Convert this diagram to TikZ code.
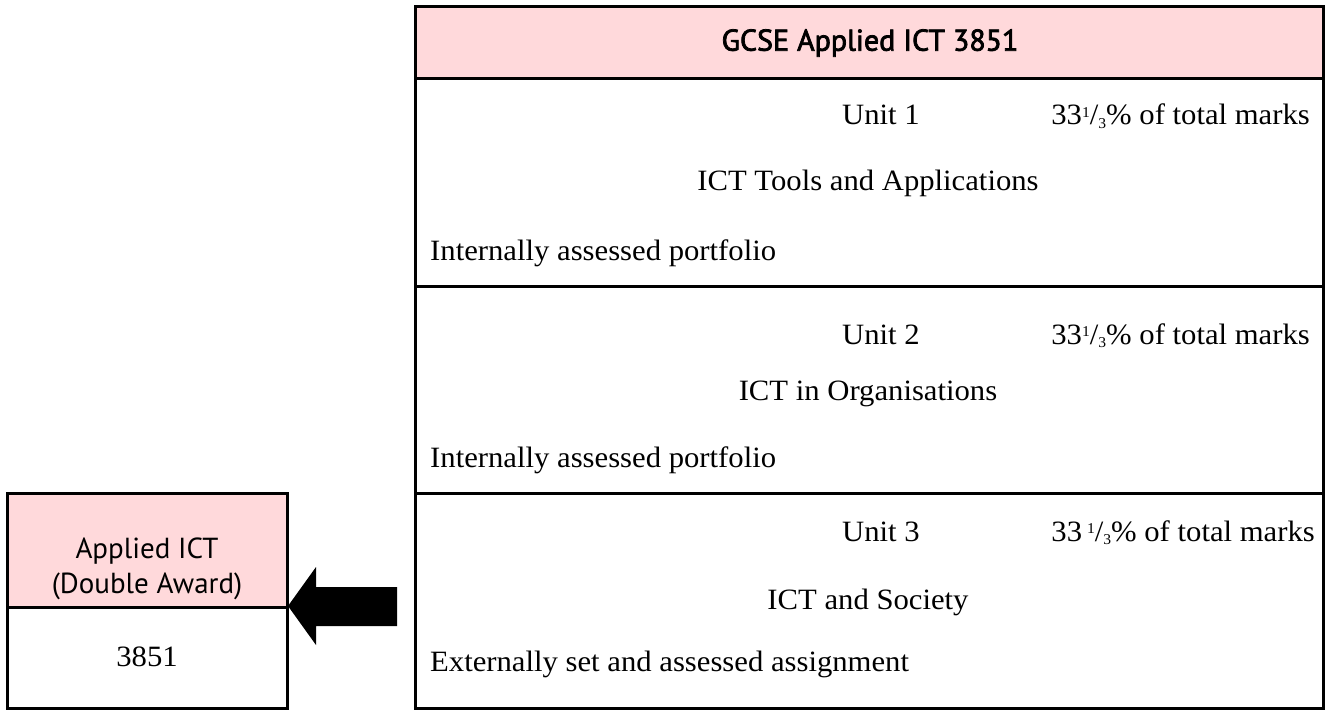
\documentclass[tikz,border=0pt]{standalone}
\usepackage{fontspec}
\setmainfont{Liberation Serif}[FakeStretch=1.04]
\newfontfamily\hdrfont{PT Sans}[FakeBold=2.5]
\newfontfamily\boxfont{PT Sans}
\definecolor{headpink}{RGB}{255,217,219}
\newcommand{\thirdfrac}{\raisebox{0.55ex}{\fontsize{15}{15}\selectfont 1}/\raisebox{-0.25ex}{\fontsize{15}{15}\selectfont 3}}
\begin{document}
\begin{tikzpicture}[x=1pt,y=-1pt,
  frame/.style={draw=black, line width=3pt},
  serif/.style={font=\fontsize{29.5}{35}\selectfont, inner sep=0pt},
  hdr/.style={font=\hdrfont\fontsize{30}{36}\selectfont, inner sep=0pt},
  sans/.style={font=\boxfont\fontsize{29}{35}\selectfont, inner sep=0pt},
  blockarrow/.style={fill=black}]
\useasboundingbox (0,0) rectangle (1330,711);
% main box
\coordinate (mNW) at (415,7);
\coordinate (mSE) at (1323,708);
\fill[headpink] (415,7) rectangle (1323,79);
\draw[frame] (415,79) -- (1323,79);
\draw[frame] (415,287) -- (1323,287);
\draw[frame] (415,493) -- (1323,493);
\draw[frame] (mNW) rectangle (mSE);
% left box
\fill[headpink] (7,493) rectangle (287,607);
\draw[frame] (7,607) -- (287,607);
\draw[frame] (7,493) rectangle (287,708);
\coordinate (lbE) at (288,606);
% arrow
\fill[blockarrow] (lbE) -- ++(28,-39) -- ++(0,20) -- ++(81,0) -- ++(0,39) -- ++(-81,0) -- ++(0,19) -- cycle;
% texts
\node[hdr, anchor=center] (title) at (870,43) {GCSE Applied ICT 3851};
\node[serif, anchor=base west] (u1) at (842,125) {Unit 1};
\node[serif, anchor=base east] (p1) at (1310,125) {33\thirdfrac\% of total marks};
\node[serif, anchor=base] (t1) at (868,191) {ICT Tools and Applications};
\node[serif, anchor=base west] (b1) at (430,261) {Internally assessed portfolio};
\node[serif, anchor=base west] (u2) at (842,344) {Unit 2};
\node[serif, anchor=base east] (p2) at (1310,344) {33\thirdfrac\% of total marks};
\node[serif, anchor=base] (t2) at (868,400) {ICT in Organisations};
\node[serif, anchor=base west] (b2) at (430,467) {Internally assessed portfolio};
\node[serif, anchor=base west] (u3) at (842,541) {Unit 3};
\node[serif, anchor=base east] (p3) at (1315,541) {33\,\thirdfrac\% of total marks};
\node[serif, anchor=base] (t3) at (868,609) {ICT and Society};
\node[serif, anchor=base west] (b3) at (430,671) {Externally set and assessed assignment};
\node[sans, anchor=base] (lt1) at (147,558) {Applied ICT};
\node[sans, anchor=base] (lt2) at (147,593) {(Double Award)};
\node[serif, anchor=center] (ln) at (147,657) {3851};
\end{tikzpicture}
\end{document}
